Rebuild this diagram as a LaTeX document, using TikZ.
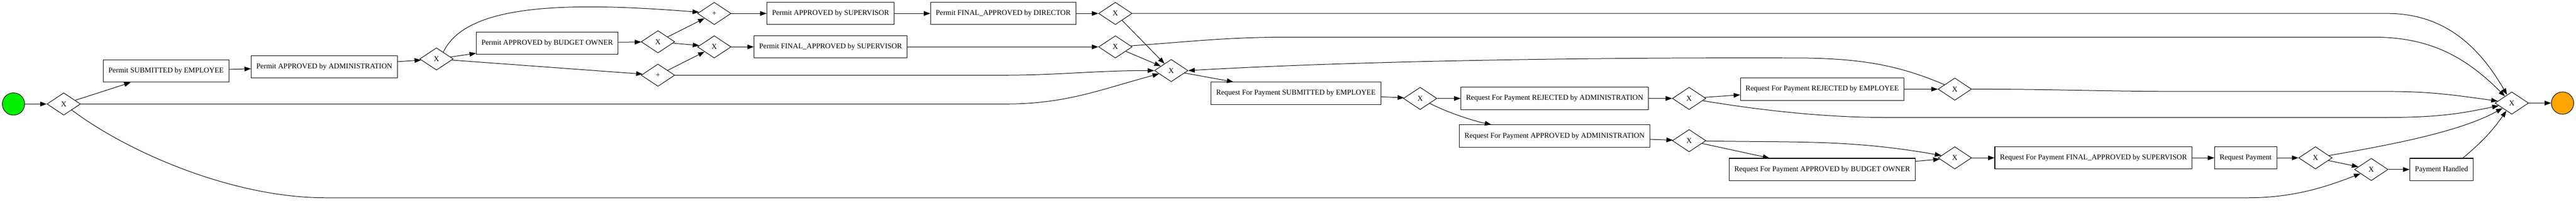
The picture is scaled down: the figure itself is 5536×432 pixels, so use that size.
\documentclass[tikz,border=0pt]{standalone}
\usepackage{fontspec}
\setmainfont{Liberation Serif}
\usetikzlibrary{shapes.geometric,arrows.meta}
\definecolor{startgreen}{HTML}{00EE00}
\definecolor{endorange}{HTML}{FFA500}

\begin{document}
\begin{tikzpicture}[x=1pt,y=1pt,line width=1.1pt,
  >={Triangle[length=14pt,width=10pt]},
  task/.style={draw,line width=1.2pt,rectangle,minimum height=48pt,inner xsep=11pt,font=\fontsize{16}{19}\selectfont},
  gate/.style={draw,diamond,minimum width=72pt,minimum height=48pt,inner sep=0pt,font=\fontsize{16}{19}\selectfont},
  event/.style={draw,circle,minimum size=48pt,inner sep=0pt}]
\useasboundingbox (0,0) rectangle (5536,432);

\node[event,fill=startgreen] (start) at (29,208) {};
\node[gate] (g1) at (137,208) {X};
\node[task] (psub) at (357,279) {Permit SUBMITTED by EMPLOYEE};
\node[task] (padm) at (697,288) {Permit APPROVED by ADMINISTRATION};
\node[gate] (g2) at (938,305) {X};
\node[task] (pbud) at (1176,339) {Permit APPROVED by BUDGET OWNER};
\node[gate] (g3) at (1414,342) {X};
\node[gate] (g4) at (1414,270) {+};
\node[gate] (g5) at (1535,403) {+};
\node[gate] (g6) at (1535,331) {X};
\node[task] (psup) at (1785,403) {Permit APPROVED by SUPERVISOR};
\node[task] (pfsup) at (1785,331) {Permit FINAL\_APPROVED by SUPERVISOR};
\node[task] (pfdir) at (2156,403) {Permit FINAL\_APPROVED by DIRECTOR};
\node[gate] (g7) at (2397,403) {X};
\node[gate] (g8) at (2397,331) {X};
\node[gate] (g9) at (2517,280) {X};
\node[task] (rsub) at (2785,231) {Request For Payment SUBMITTED by EMPLOYEE};
\node[gate] (g10) at (3052,220) {X};
\node[task] (rrejadm) at (3341,220) {Request For Payment REJECTED by ADMINISTRATION};
\node[task] (rappadm) at (3341,139) {Request For Payment APPROVED by ADMINISTRATION};
\node[gate] (g11) at (3630,220) {X};
\node[gate] (g12) at (3630,129) {X};
\node[task] (rrejemp) at (3916,240) {Request For Payment REJECTED by EMPLOYEE};
\node[task] (rappbud) at (3916,67) {Request For Payment APPROVED by BUDGET OWNER};
\node[gate] (g13) at (4201,240) {X};
\node[gate] (g14) at (4201,92) {X};
\node[task] (rfsup) at (4499,92) {Request For Payment FINAL\_APPROVED by SUPERVISOR};
\node[task] (rpay) at (4826,92) {Request Payment};
\node[gate] (g15) at (4976,92) {X};
\node[gate] (g16) at (5096,67) {X};
\node[task] (phand) at (5247,67) {Payment Handled};
\node[gate] (g17) at (5398,210) {X};
\node[event,fill=endorange] (stop) at (5507,210) {};

\draw[->] (start) -- (g1);
\draw[->] (g1) -- (psub);
\draw[->] (g1.east) -- (2160,208) to[out=0,in=195] (g9);
\draw[->] (g1) .. controls (275,104) and (500,6) .. (700,6) -- (4830,6) .. controls (4930,6) and (5000,30) .. (g16);
\draw[->] (psub) -- (padm);
\draw[->] (padm) -- (g2);
\draw[->] (g2.45) .. controls (1000,420) and (1200,430) .. (g5);
\draw[->] (g2) -- (pbud);
\draw[->] (g2) -- (g4);
\draw[->] (pbud) -- (g3);
\draw[->] (g3) -- (g5);
\draw[->] (g3) -- (g6);
\draw[->] (g4) -- (g6);
\draw[->] (g4.east) -- (2150,270) to[out=0,in=180] (g9);
\draw[->] (g5) -- (psup);
\draw[->] (psup) -- (pfdir);
\draw[->] (pfdir) -- (g7);
\draw[->] (g6) -- (pfsup);
\draw[->] (pfsup) -- (g8);
\draw[->] (g7) -- (g9);
\draw[->] (g8) -- (g9);
\draw[->] (g7.east) -- (5130,403) to[out=0,in=120] (g17);
\draw[->] (g8) to[out=4,in=180] (2770,352) -- (5100,352) to[out=0,in=135] (g17);
\draw[->] (g9) -- (rsub);
\draw[->] (g13) .. controls (4080,292) and (4000,305) .. (3880,307) .. controls (3400,309) and (2900,300) .. (g9.east);
\draw[->] (rsub) -- (g10);
\draw[->] (g10) -- (rrejadm);
\draw[->] (g10) .. controls (3110,190) and (3165,172) .. ([xshift=69pt]rappadm.north west);
\draw[->] (rrejadm) -- (g11);
\draw[->] (g11) -- (rrejemp);
\draw[->] (g11) .. controls (3750,200) and (3900,179) .. (4050,179) -- (5130,179) .. controls (5250,179) and (5300,190) .. (g17);
\draw[->] (rappadm) -- (g12);
\draw[->] (g12) to[out=-1,in=170] (g14);
\draw[->] (g12) -- (rappbud);
\draw[->] (rappbud) -- (g14);
\draw[->] (rrejemp) -- (g13);
\draw[->] (g13.east) to[out=0,in=180] (4700,235) -- (5130,235) to[out=0,in=172] (g17);
\draw[->] (g14) -- (rfsup);
\draw[->] (rfsup) -- (rpay);
\draw[->] (rpay) -- (g15);
\draw[->] (g15) .. controls (5150,122) and (5290,150) .. (g17);
\draw[->] (g15) -- (g16);
\draw[->] (g16) -- (phand);
\draw[->] ([xshift=-23pt]phand.north east) to[out=40,in=235] (g17);
\draw[->] (g17) -- (stop);
\end{tikzpicture}
\end{document}
